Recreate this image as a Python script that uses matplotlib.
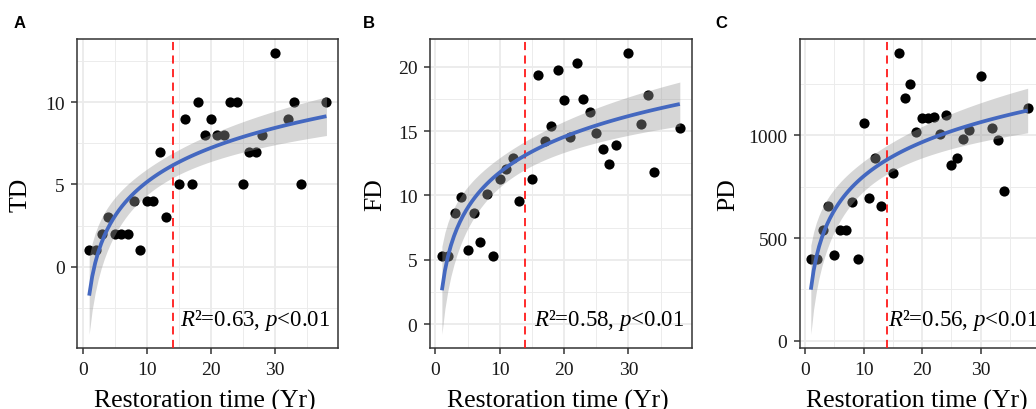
import numpy as np
import matplotlib
matplotlib.use("Agg")
import matplotlib.pyplot as plt
from matplotlib.ticker import MultipleLocator

# data
restoration_years = [1, 2, 3, 4, 5, 6, 7, 8, 9, 10, 11, 12, 13, 15, 16, 17,
                     18, 19, 20, 21, 22, 23, 24, 25, 26, 27, 28, 30, 32, 33, 34, 38]
td_values = [1, 1, 2, 3, 2, 2, 2, 4, 1, 4, 4, 7, 3, 5, 9, 5,
             10, 8, 9, 8, 8, 10, 10, 5, 7, 7, 8, 13, 9, 10, 5, 10]
fd_values = [5.26, 5.26, 8.63, 9.85, 5.8, 8.63, 6.42, 10.1, 5.26, 11.24, 12.04,
             12.89, 9.54, 11.29, 19.36, 14.23, 15.41, 19.72, 17.42, 14.54, 20.28,
             17.47, 16.52, 14.87, 13.58, 12.47, 13.92, 21.06, 15.52, 17.84, 11.86, 15.23]
pd_values = [399, 399, 537, 658, 415, 537, 537, 677, 399, 1060, 695, 892, 658,
             819, 1401, 1180, 1251, 1017, 1083, 1083, 1089, 1009, 1099, 857, 889,
             981, 1025, 1291, 1036, 976, 729, 1131]
threshold_year = 14
panel_letters = ["A", "B", "C"]
y_titles = ["TD", "FD", "PD"]
r2_labels = ["0.63", "0.58", "0.56"]
y_steps = [5, 5, 500]

plt.rcParams['font.family'] = 'Liberation Serif'
plt.rcParams['mathtext.fontset'] = 'custom'
plt.rcParams['mathtext.it'] = 'Liberation Serif:italic'
plt.rcParams['mathtext.rm'] = 'Liberation Serif'

W, H = 1036, 410


def rect(l, r, t, b):
    return [l / W, 1 - b / H, (r - l) / W, (b - t) / H]


def log_fit(x, y, xs):
    # y ~ log(x) with 95% confidence band, like geom_smooth(method="lm")
    lx = np.log(x)
    X = np.column_stack([np.ones_like(lx), lx])
    beta, *_ = np.linalg.lstsq(X, y, rcond=None)
    resid = y - X @ beta
    s2 = resid @ resid / (len(y) - 2)
    cov = s2 * np.linalg.inv(X.T @ X)
    Xs = np.column_stack([np.ones_like(xs), np.log(xs)])
    fit = Xs @ beta
    se = np.sqrt(np.einsum('ij,jk,ik->i', Xs, cov, Xs))
    t = 2.042  # t(0.975, df=30)
    return fit, fit - t * se, fit + t * se


layout = [
    dict(rect=rect(77.3, 338.3, 40, 349.3), ylab_x=-0.216, txt_x=0.393, letter_x=14),
    dict(rect=rect(430, 691.7, 40, 349.3), ylab_x=-0.210, txt_x=0.399, letter_x=363),
    dict(rect=rect(800, 1038.5, 40, 349.3), ylab_x=-0.300, txt_x=0.369, letter_x=715),
]

fig = plt.figure(figsize=(W / 100, H / 100), dpi=100)

x = np.array(restoration_years, dtype=float)
xs = np.linspace(x.min(), x.max(), 80)

for i, yvals in enumerate([td_values, fd_values, pd_values]):
    y = np.array(yvals, dtype=float)
    lay = layout[i]
    ax = fig.add_axes(lay['rect'])

    fit, lo, hi = log_fit(x, y, xs)

    ax.scatter(x, y, s=54, color='black', linewidths=0, zorder=2)
    ax.fill_between(xs, lo, hi, color='#999999', alpha=0.4, linewidth=0, zorder=3)
    ax.axvline(threshold_year, color='#ff1a1a', lw=1.3, ls=(0, (4.5, 3)), zorder=4)
    ax.plot(xs, fit, color='#4468C0', lw=2.7, solid_capstyle='butt', zorder=5)

    # ggplot style 5% expansion
    xlo, xhi = x.min(), x.max()
    xpad = 0.05 * (xhi - xlo)
    ax.set_xlim(xlo - xpad, xhi + xpad)
    ylo = min(y.min(), lo.min())
    yhi = max(y.max(), hi.max())
    ypad = 0.05 * (yhi - ylo)
    ax.set_ylim(ylo - ypad, yhi + ypad)

    ax.xaxis.set_major_locator(MultipleLocator(10))
    ax.xaxis.set_minor_locator(MultipleLocator(5))
    ax.yaxis.set_major_locator(MultipleLocator(y_steps[i]))
    ax.yaxis.set_minor_locator(MultipleLocator(y_steps[i] / 2))

    ax.grid(which='major', color='#EBEBEB', lw=1.3)
    ax.grid(which='minor', color='#EBEBEB', lw=0.65)
    ax.set_axisbelow(True)

    for sp in ax.spines.values():
        sp.set_color('#333333')
        sp.set_linewidth(1.1)

    ax.tick_params(which='major', direction='out', length=4, width=1.1,
                   color='#333333', labelsize=14, labelcolor='#1a1a1a')
    ax.tick_params(axis='x', pad=5)
    ax.tick_params(axis='y', pad=5)
    ax.tick_params(which='minor', length=0)

    ax.set_xlabel('Restoration time (Yr)', fontsize=18.5, va='baseline')
    ax.xaxis.set_label_coords(0.49, -0.188)
    ax.set_ylabel(y_titles[i], fontsize=18.5, va='center')
    ax.yaxis.set_label_coords(lay['ylab_x'], 0.5)

    ax.text(lay['txt_x'], 0.075, r'$R$²=' + r2_labels[i] + r', $p$<0.01',
            transform=ax.transAxes, fontsize=16.5, ha='left', va='baseline', zorder=6)

    fig.text(lay['letter_x'] / W, 1 - 28 / H, panel_letters[i],
             fontfamily='Liberation Sans', fontweight='bold', fontsize=12,
             va='baseline', ha='left')

fig.savefig('out.png', dpi=100)
